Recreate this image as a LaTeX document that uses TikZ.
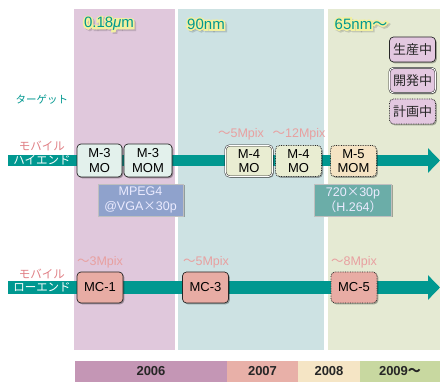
\documentclass[tikz,border=0pt]{standalone}
\usepackage{fontspec}
\setmainfont{Liberation Sans}
\newfontfamily\jp{Noto Sans CJK JP}
\newfontfamily\glowfont[FakeBold=22]{Liberation Sans}
\newfontfamily\jpglow[FakeBold=22]{Noto Sans CJK JP}
\usetikzlibrary{shadows,arrows.meta,calc}
\definecolor{pinkpanel}{HTML}{E0C8DC}
\definecolor{bluepanel}{HTML}{CDE2E3}
\definecolor{greenpanel}{HTML}{E5EAD3}
\definecolor{tealc}{HTML}{009890}
\definecolor{salmon}{HTML}{E07E84}
\definecolor{mpixc}{HTML}{E8A0A0}
\definecolor{mint}{HTML}{E3F1EC}
\definecolor{m4c}{HTML}{E9EDD2}
\definecolor{m5c}{HTML}{F5E3C3}
\definecolor{mcc}{HTML}{E8ACA4}
\definecolor{mpegc}{HTML}{8FA2CC}
\definecolor{h264c}{HTML}{6BADA8}
\definecolor{legc}{HTML}{E3C8E0}
\definecolor{ysix}{HTML}{C496B5}
\definecolor{yseven}{HTML}{E8B0A8}
\definecolor{yeight}{HTML}{F5E5C5}
\definecolor{ynine}{HTML}{C8D8A0}
\definecolor{glowc}{HTML}{F2F0A0}
% name, position, plain text, glow text
\newcommand\glowhead[4]{%
  \node[headglow, text=black, text opacity=0.15] at ($(#2)+(1.6pt,-1.6pt)$) {#4};
  \node[headglow, text=glowc] at (#2) {#4};
  \node[headfont, text=tealc] (#1) at (#2) {#3};
}
\begin{document}
\begin{tikzpicture}[x=1pt,y=-1pt,
  headfont/.style={font=\fontsize{15}{17}\selectfont, inner sep=0pt},
  headglow/.style={font=\glowfont\fontsize{15}{17}\selectfont, inner sep=0pt},
  box/.style={draw=black!85, line width=0.7pt, rounded corners=4pt, inner sep=0pt,
    align=center, font=\fontsize{13}{14.5}\selectfont,
    drop shadow={shadow xshift=1.3pt, shadow yshift=-1.3pt, fill=black, opacity=0.3}},
  prod/.style={box},
  dev/.style={box, double, double distance=0.9pt, line width=0.5pt},
  plan/.style={box, densely dotted, line width=0.9pt},
  info/.style={draw=black!25, line width=0.5pt, inner sep=0pt, align=center,
    text=white!92!blue, font=\fontsize{12.5}{14.5}\selectfont,
    drop shadow={shadow xshift=1.5pt, shadow yshift=-1.5pt, fill=black, opacity=0.3}},
  legend/.style={box, fill=legc, font=\jp\fontsize{13}{15}\selectfont, text=black!85,
    minimum width=46, minimum height=25},
  mpix/.style={text=mpixc, inner sep=0pt, font=\fontsize{12.5}{14}\selectfont},
  side/.style={inner sep=0pt, font=\jp\fontsize{11.5}{13}\selectfont},
  year/.style={inner sep=0pt, minimum height=21, font=\bfseries\fontsize{13}{14}\selectfont, text=black!85},
  bar/.style={line width=11.5pt, color=tealc, -{Triangle[length=12pt,width=24pt]}}
]
\useasboundingbox (0,0) rectangle (440,382);
\fill[white] (0,0) rectangle (440,382);
% panels
\fill[pinkpanel] (74,9) rectangle (175,350);
\fill[bluepanel] (178,9) rectangle (324,350);
\fill[greenpanel] (328,9) rectangle (440,350);
% year bar
\node[year, fill=ysix, minimum width=152] (y2006) at (151,371.5) {2006};
\node[year, fill=yseven, minimum width=71] (y2007) at (262.5,371.5) {2007};
\node[year, fill=yeight, minimum width=62] (y2008) at (329,371.5) {2008};
\node[year, fill=ynine, minimum width=80] (y2009) at (400,371.5) {2009{\jp 〜}};
% headers
\glowhead{h018}{109,24}{0.18{\itshape μ}m}{0.18{\itshape μ}m}
\glowhead{h90}{206,24}{90nm}{90nm}
\glowhead{h65}{361,24}{65nm{\jp 〜}}{65nm{\jpglow 〜}}
% legend
\node[legend] (lg1) at (412.5,49.5) {生産中};
\node[legend, double, double distance=0.9pt, line width=0.5pt] (lg2) at (412.5,80.5) {開発中};
\node[legend, densely dotted, line width=0.9pt] (lg3) at (412.5,111.5) {計画中};
% target
\node[side, text=tealc, font=\jp\fontsize{10.5}{12}\selectfont] (target) at (42,100) {ターゲット};
% bars
\coordinate (hs) at (8,160.5);
\coordinate (he) at (440,160.5);
\draw[bar] (hs) -- (he);
\coordinate (ls) at (8,287.5);
\coordinate (le) at (440,287.5);
\draw[bar, line width=13pt] (ls) -- (le);
\node[side, text=salmon] (mob1) at (42,146) {モバイル};
\node[side, text=white] (hiend) at (42,160.5) {ハイエンド};
\node[side, text=salmon] (mob2) at (42,273.5) {モバイル};
\node[side, text=white] (loend) at (42,287.5) {ローエンド};
% high-end nodes
\node[prod, fill=mint, minimum width=45, minimum height=33] (m3mo) at (99.5,160.5) {M-3\\MO};
\node[prod, fill=mint, minimum width=48, minimum height=33] (m3mom) at (148,160.5) {M-3\\MOM};
\node[dev, fill=m4c, minimum width=47, minimum height=31] (m4a) at (249,161) {M-4\\MO};
\node[plan, fill=m4c, minimum width=46, minimum height=31] (m4b) at (298.5,161) {M-4\\MO};
\node[plan, fill=m5c, minimum width=46, minimum height=31] (m5) at (353.5,161) {M-5\\MOM};
\node[mpix] (px5a) at (241,134) {{\jp 〜}5Mpix};
\node[mpix] (px12) at (299,134) {{\jp 〜}12Mpix};
% info boxes
\node[info, fill=mpegc, minimum width=85, minimum height=32] (mpeg) at (140.5,200) {MPEG4\\@VGA{\jp ×}30p};
\node[info, fill=h264c, minimum width=77, minimum height=32] (h264) at (353,200) {720{\jp ×}30p\\{\jp （}H.264{\jp ）}};
% low-end nodes
\node[prod, fill=mcc, minimum width=46, minimum height=31] (mc1) at (100,287.5) {MC-1};
\node[prod, fill=mcc, minimum width=46, minimum height=31] (mc3) at (205.5,287.5) {MC-3};
\node[plan, fill=mcc, minimum width=46, minimum height=31] (mc5) at (354,287.5) {MC-5};
\node[mpix] (px3) at (100,262) {{\jp 〜}3Mpix};
\node[mpix] (px5b) at (206,262) {{\jp 〜}5Mpix};
\node[mpix] (px8) at (354,262) {{\jp 〜}8Mpix};
\end{tikzpicture}
\end{document}
